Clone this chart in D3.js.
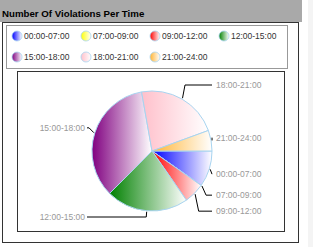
<!DOCTYPE html>
<html>
<head>
<meta charset="utf-8">
<script src="https://cdn.jsdelivr.net/npm/d3@7"></script>
<style>
  body { margin: 0; background: #fff; }
  svg { display: block; }
  text { font-family: "Liberation Sans", Arial, sans-serif; }
</style>
</head>
<body>
<div id="chart"></div>
<script>
var categories = ["00:00-07:00", "07:00-09:00", "09:00-12:00", "12:00-15:00", "15:00-18:00", "18:00-21:00", "21:00-24:00"]
var violations = [7, 0, 4, 16, 25, 16, 4]
var colors = ["#0000ff", "#ffff00", "#ff0000", "#008000", "#800080", "#ffc0cb", "#ffb433"]
var title = "Number Of Violations Per Time"

var width = 313, height = 247

var svg = d3.select("#chart").append("svg")
    .attr("width", width)
    .attr("height", height)

// gradients: colour on the left, fading to white on the right
var defs = svg.append("defs")
colors.forEach(function(c, i) {
    var g = defs.append("linearGradient").attr("id", "grad" + i)
        .attr("x1", 0).attr("x2", 1).attr("y1", 0).attr("y2", 0)
    g.append("stop").attr("offset", "0%").attr("stop-color", c)
    g.append("stop").attr("offset", "100%").attr("stop-color", "#fff")
})

// page frame
svg.append("rect").attr("x", 308).attr("y", 0).attr("width", 5).attr("height", height).attr("fill", "#f4f4f4")
svg.append("rect").attr("x", 0).attr("y", 0).attr("width", 302).attr("height", 22).attr("fill", "#a9a9a9")
svg.append("text").attr("x", 2).attr("y", 17)
    .attr("font-size", "9.7px").attr("font-weight", "bold").attr("fill", "#000")
    .text(title)
svg.append("rect").attr("x", 2.5).attr("y", 22.5).attr("width", 296).attr("height", 220)
    .attr("fill", "none").attr("stroke", "#333")

// legend
svg.append("rect").attr("x", 6.5).attr("y", 25.5).attr("width", 281).attr("height", 43)
    .attr("fill", "#fff").attr("stroke", "#999")

var legend = svg.selectAll(".legend")
    .data(categories)
    .enter().append("g")
    .attr("class", "legend")
    .attr("transform", function(d, i) {
        return "translate(" + (17 + (i % 4) * 69) + "," + (36 + Math.floor(i / 4) * 21) + ")"
    })
legend.append("circle").attr("r", 5)
    .attr("fill", function(d, i) { return "url(#grad" + i + ")" })
    .attr("stroke", "#a8d4f0").attr("stroke-width", 0.8)
legend.append("text").attr("x", 7).attr("y", 3)
    .attr("font-size", "8.5px").attr("fill", "#333")
    .text(function(d) { return d })

// plot area
svg.append("rect").attr("x", 17.5).attr("y", 71.5).attr("width", 267).attr("height", 160)
    .attr("fill", "#fff").attr("stroke", "#333")

var cx = 152, cy = 151, r = 60

var pie = d3.pie().sort(null)
    .startAngle(Math.PI / 2)
    .endAngle(Math.PI / 2 + 2 * Math.PI)
    .value(function(d) { return d })
var arcs = pie(violations)
var arc = d3.arc().innerRadius(0).outerRadius(r)

var g = svg.append("g").attr("transform", "translate(" + cx + "," + cy + ")")

g.selectAll(".slice")
    .data(arcs)
    .enter().append("path")
    .attr("class", "slice")
    .attr("d", arc)
    .attr("fill", function(d, i) { return "url(#grad" + i + ")" })
    .attr("stroke", "#a8d4f0")
    .attr("stroke-width", 1)

// labels, kept inside the plot box, with simple collision handling per side
var maxY = r + 6
var labels = arcs.map(function(d, i) {
    var mid = (d.startAngle + d.endAngle) / 2 - Math.PI / 2
    var y = (r + 17) * Math.sin(mid)
    return {
        name: categories[i],
        mid: mid,
        right: Math.cos(mid) >= 0,
        y: Math.max(-maxY, Math.min(maxY, y))
    }
})
;[true, false].forEach(function(side) {
    var ls = labels.filter(function(l) { return l.right === side })
        .sort(function(a, b) { return a.y - b.y })
    for (var k = 1; k < ls.length; k++) {
        if (ls[k].y - ls[k - 1].y < 16) ls[k].y = ls[k - 1].y + 16
    }
})

var labelX = 64

labels.forEach(function(l) {
    var ex = (r + 1) * Math.cos(l.mid), ey = (r + 1) * Math.sin(l.mid)
    var bx = (r + 6) * Math.cos(l.mid)
    var tx = l.right ? labelX - 4 : -labelX - 1
    if (l.right) bx = Math.min(bx, tx) ; else bx = Math.max(bx, tx)
    g.append("path")
        .attr("d", d3.line()([[ex, ey], [bx, l.y], [tx, l.y]]))
        .attr("fill", "none").attr("stroke", "#000").attr("stroke-width", 1)
    g.append("text")
        .attr("x", l.right ? labelX : -labelX - 3)
        .attr("y", l.y + 3)
        .attr("text-anchor", l.right ? "start" : "end")
        .attr("font-size", "8.5px").attr("fill", "#999")
        .text(l.name)
})
</script>
</body>
</html>
